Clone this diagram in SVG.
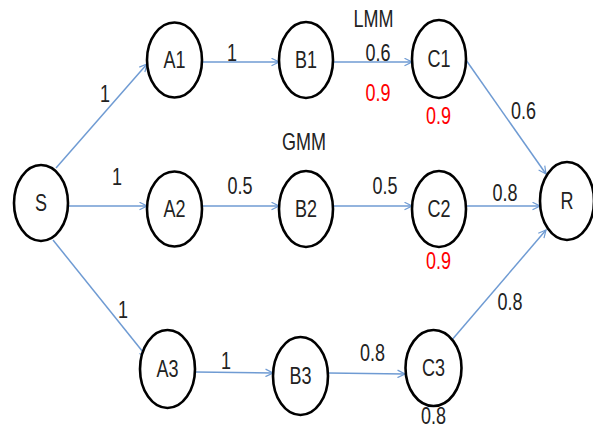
<svg xmlns="http://www.w3.org/2000/svg" width="593" height="430" viewBox="0 0 593 430">
<style>
.n ellipse{fill:#fff;stroke:#000;stroke-width:2.6}
.t{font-family:"Liberation Sans",Arial,sans-serif;font-size:18px;fill:#222;text-anchor:middle}
.nl{dominant-baseline:central}
.r{fill:#ff0000}
.e line{stroke:#6f9bd3;stroke-width:1.5;marker-end:url(#ah)}
</style>
<defs>
<marker id="ah" viewBox="0 0 12 12" refX="11" refY="6" markerWidth="9" markerHeight="9" markerUnits="userSpaceOnUse" orient="auto">
<path d="M1,1 L11,6 L1,11" fill="none" stroke="#6f9bd3" stroke-width="1.6"/>
</marker>
</defs>
<rect width="593" height="430" fill="#fff"/>
<g id="connectors" class="e">
<line x1="56" y1="168" x2="147" y2="64"/>
<line x1="68" y1="206" x2="147" y2="206"/>
<line x1="53" y1="240" x2="147" y2="357"/>
<line x1="202" y1="62" x2="279" y2="62"/>
<line x1="202" y1="206" x2="279" y2="206"/>
<line x1="195" y1="372" x2="273" y2="373"/>
<line x1="333" y1="62" x2="412" y2="62"/>
<line x1="333" y1="206" x2="412" y2="206"/>
<line x1="328" y1="373" x2="405" y2="374"/>
<line x1="466" y1="60" x2="546" y2="174"/>
<line x1="466" y1="206" x2="540" y2="206"/>
<line x1="451" y1="341" x2="546" y2="230"/>
</g>
<g id="S" class="n"><ellipse cx="41" cy="203" rx="27" ry="38"/><text class="t nl" transform="translate(41,203) scale(1,1.3)">S</text></g>
<g id="A1" class="n"><ellipse cx="174.5" cy="60" rx="27.5" ry="37.5"/><text class="t nl" transform="translate(174.5,60) scale(1,1.3)">A1</text></g>
<g id="A2" class="n"><ellipse cx="174.5" cy="209" rx="27.5" ry="37.5"/><text class="t nl" transform="translate(174.5,209) scale(1,1.3)">A2</text></g>
<g id="A3" class="n"><ellipse cx="167.5" cy="369" rx="27.5" ry="39"/><text class="t nl" transform="translate(167.5,369) scale(1,1.3)">A3</text></g>
<g id="B1" class="n"><ellipse cx="306" cy="60" rx="27" ry="38"/><text class="t nl" transform="translate(306,60) scale(1,1.3)">B1</text></g>
<g id="B2" class="n"><ellipse cx="306" cy="209" rx="27" ry="38"/><text class="t nl" transform="translate(306,209) scale(1,1.3)">B2</text></g>
<g id="B3" class="n"><ellipse cx="300.5" cy="376" rx="27.5" ry="39"/><text class="t nl" transform="translate(300.5,376) scale(1,1.3)">B3</text></g>
<g id="C1" class="n"><ellipse cx="439" cy="59" rx="27" ry="39"/><text class="t nl" transform="translate(439,59) scale(1,1.3)">C1</text></g>
<g id="C2" class="n"><ellipse cx="439" cy="209" rx="27" ry="38"/><text class="t nl" transform="translate(439,209) scale(1,1.3)">C2</text></g>
<g id="C3" class="n"><ellipse cx="433.5" cy="368" rx="28" ry="38"/><text class="t nl" transform="translate(433.5,368) scale(1,1.3)">C3</text></g>
<g id="R" class="n"><ellipse cx="567" cy="201" rx="27" ry="39"/><text class="t nl" transform="translate(567,201) scale(1,1.3)">R</text></g>
<g id="labels">
<text class="t" transform="translate(105,102) scale(1,1.3)">1</text>
<text class="t" transform="translate(117,185) scale(1,1.3)">1</text>
<text class="t" transform="translate(123,318) scale(1,1.3)">1</text>
<text class="t" transform="translate(232,61) scale(1,1.3)">1</text>
<text class="t" transform="translate(240,194) scale(1,1.3)">0.5</text>
<text class="t" transform="translate(226,369) scale(1,1.3)">1</text>
<text class="t" transform="translate(373.5,27) scale(1,1.3)">LMM</text>
<text class="t" transform="translate(378,61) scale(1,1.3)">0.6</text>
<text class="t r" transform="translate(378,101) scale(1,1.3)">0.9</text>
<text class="t r" transform="translate(438.5,124) scale(1,1.3)">0.9</text>
<text class="t" transform="translate(523.5,119) scale(1,1.3)">0.6</text>
<text class="t" transform="translate(304,150) scale(1,1.3)">GMM</text>
<text class="t" transform="translate(385,194) scale(1,1.3)">0.5</text>
<text class="t" transform="translate(505,201) scale(1,1.3)">0.8</text>
<text class="t r" transform="translate(438.5,269) scale(1,1.3)">0.9</text>
<text class="t" transform="translate(510,310) scale(1,1.3)">0.8</text>
<text class="t" transform="translate(372.5,361) scale(1,1.3)">0.8</text>
<text class="t" transform="translate(433.5,424) scale(1,1.3)">0.8</text>
</g>
</svg>
